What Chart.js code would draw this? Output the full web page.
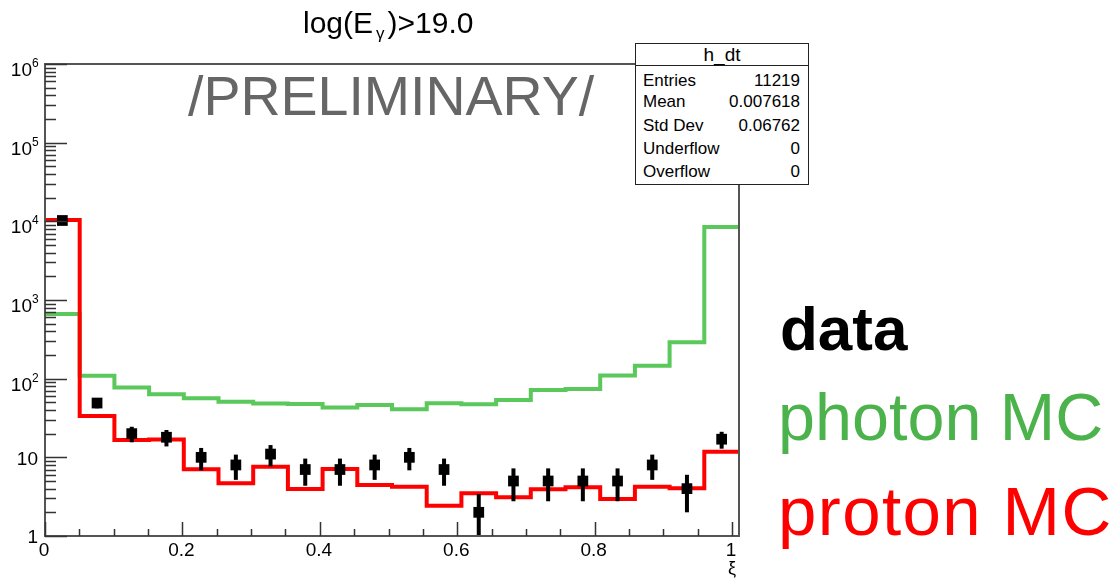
<!DOCTYPE html>
<html>
<head>
<meta charset="utf-8">
<script src="https://cdn.jsdelivr.net/npm/chart.js@4.4.1/dist/chart.umd.min.js"></script>
<style>
body{margin:0;background:#fff;font-family:"Liberation Sans",Arial,Helvetica,sans-serif;}
#wrap{position:relative;width:1119px;height:579px;overflow:hidden;background:#fff;}
#c{position:absolute;left:0;top:0;}
.t{position:absolute;line-height:1;white-space:nowrap;}
#title{left:303px;top:8px;font-size:30px;color:#000;}
#title sub{font-size:17px;position:relative;top:6px;vertical-align:baseline;padding:0 3px 0 3px;}
#prelim{left:188px;top:69px;font-size:55.5px;color:#666;}
#stats{position:absolute;left:635px;top:43px;width:172px;height:140px;border:1.5px solid #222;background:#fff;}
#stats .hd{position:absolute;left:0;top:0;width:172px;height:21px;border-bottom:1.5px solid #222;}
#stats .hd span{position:absolute;left:0;width:172px;text-align:center;top:1px;font-size:19px;line-height:1;}
#stats .row{position:absolute;left:7px;width:157px;font-size:17px;line-height:1;}
#stats .row b{font-weight:normal;float:right;}
#lgData{left:780px;top:298px;font-size:62px;font-weight:bold;color:#000;}
#lgPhoton{left:778px;top:384px;font-size:66.5px;color:#4cb34c;}
#lgProton{left:778px;top:477px;font-size:69px;letter-spacing:1.4px;color:#ff0000;}
</style>
</head>
<body>
<div id="wrap">
  <canvas id="c" width="1119" height="579"></canvas>
  <div class="t" id="title">log(E<sub>γ</sub>)&gt;19.0</div>
  <div class="t" id="prelim">/PRELIMINARY/</div>
  <div id="stats"><div class="hd"><span id="statTitle"></span></div></div>
  <div class="t" id="lgData">data</div>
  <div class="t" id="lgPhoton">photon MC</div>
  <div class="t" id="lgProton">proton MC</div>
</div>
<script>
// histogram binning: 20 bins from 0 to 1.01
var binLow = 0;
var binHigh = 1.01;
var nBins = 20;
var binWidth = (binHigh - binLow) / nBins;

// bin contents
var photonMC = [662, 108.6, 77, 63.5, 56.5, 50.7, 48.2, 47.8, 42.9, 46.4, 40.9, 48.7, 47.4, 53.7, 72, 74, 109.5, 145.5, 291, 8460];
var protonMC = [10400, 33.6, 16.6, 16.9, 7.06, 4.68, 7.6, 3.96, 7.1, 4.46, 4.24, 2.43, 3.49, 3.1, 3.93, 4.16, 2.96, 4.24, 4.05, 11.8];
var dataCounts = [10250, 49, 20, 18, 10, 8, 11, 7, 7, 8, 10, 7, 2, 5, 5, 5, 5, 8, 4, 17];

var xMajorTicks = [0, 0.2, 0.4, 0.6, 0.8, 1];
var xTickLabels = ['0', '0.2', '0.4', '0.6', '0.8', '1'];
var yDecades = [1, 10, 100, 1000, 10000, 100000, 1000000];
var yExponents = ['', '', '2', '3', '4', '5', '6'];

var statTitle = 'h_dt';
var statNames = ['Entries', 'Mean', 'Std Dev', 'Underflow', 'Overflow'];
var statValues = ['11219', '0.007618', '0.06762', '0', '0'];

var greenLine = '#5ac85a';
var redLine = '#ff0000';

// stats box text
document.getElementById('statTitle').textContent = statTitle;
var statsBox = document.getElementById('stats');
var rowBase = [43.7, 65.3, 88.7, 112, 135];
for (var i = 0; i < statNames.length; i++) {
    var r = document.createElement('div');
    r.className = 'row';
    r.style.top = (rowBase[i] - 14.4 - 1.5) + 'px';
    r.innerHTML = statNames[i] + '<b>' + statValues[i] + '</b>';
    statsBox.appendChild(r);
}

function stepPoints(vals) {
    var pts = [];
    for (var i = 0; i < vals.length; i++) {
        pts.push({x: binLow + i * binWidth, y: vals[i]});
    }
    pts.push({x: binHigh, y: vals[vals.length - 1]});
    return pts;
}

function centerPoints(vals) {
    var pts = [];
    for (var i = 0; i < vals.length; i++) {
        pts.push({x: binLow + (i + 0.5) * binWidth, y: vals[i]});
    }
    return pts;
}

// error bars (sqrt N), drawn through the scales
var errorBars = {
    id: 'errorBars',
    afterDatasetsDraw: function (chart) {
        var ctx = chart.ctx, xs = chart.scales.x, ys = chart.scales.y, a = chart.chartArea;
        ctx.save();
        ctx.beginPath();
        ctx.rect(a.left, a.top, a.right - a.left, a.bottom - a.top);
        ctx.clip();
        ctx.strokeStyle = '#000';
        ctx.lineWidth = 4;
        chart.data.datasets[0].data.forEach(function (p) {
            var e = Math.sqrt(p.y);
            var px = xs.getPixelForValue(p.x);
            var top = ys.getPixelForValue(p.y + e);
            var bot = (p.y - e) > 1 ? ys.getPixelForValue(p.y - e) : a.bottom;
            ctx.beginPath();
            ctx.moveTo(px, top);
            ctx.lineTo(px, bot);
            ctx.stroke();
        });
        ctx.restore();
    }
};

// ROOT-like frame, inside ticks and labels
var rootAxes = {
    id: 'rootAxes',
    afterDraw: function (chart) {
        var ctx = chart.ctx, xs = chart.scales.x, ys = chart.scales.y, a = chart.chartArea;
        ctx.save();
        ctx.strokeStyle = '#555';
        ctx.lineWidth = 2;
        ctx.strokeRect(a.left, a.top, a.right - a.left, a.bottom - a.top);

        ctx.strokeStyle = '#333';
        ctx.lineWidth = 1.5;
        ctx.beginPath();
        // x ticks
        for (var k = 0; k <= 20; k++) {
            var xv = k * 0.05;
            var px = Math.round(xs.getPixelForValue(xv)) + 0.5;
            var len = (k % 4 === 0) ? 14 : 7;
            ctx.moveTo(px, a.bottom);
            ctx.lineTo(px, a.bottom - len);
        }
        // y ticks
        yDecades.forEach(function (d, idx) {
            var py = Math.round(ys.getPixelForValue(d)) + 0.5;
            ctx.moveTo(a.left, py);
            ctx.lineTo(a.left + 22, py);
            if (idx < yDecades.length - 1) {
                for (var m = 2; m <= 9; m++) {
                    var pm = Math.round(ys.getPixelForValue(m * d)) + 0.5;
                    ctx.moveTo(a.left, pm);
                    ctx.lineTo(a.left + 11, pm);
                }
            }
        });
        ctx.stroke();

        ctx.fillStyle = '#000';
        ctx.font = '19px "Liberation Sans", Arial, sans-serif';
        ctx.textAlign = 'center';
        ctx.textBaseline = 'alphabetic';
        xMajorTicks.forEach(function (v, i) {
            ctx.fillText(xTickLabels[i], xs.getPixelForValue(v) - 1, 556);
        });
        ctx.font = '18px "Liberation Sans", Arial, sans-serif';
        ctx.fillText('ξ', xs.getPixelForValue(1), 574);

        yDecades.forEach(function (d, idx) {
            var py = ys.getPixelForValue(d);
            ctx.textAlign = 'right';
            ctx.font = '19px "Liberation Sans", Arial, sans-serif';
            if (yExponents[idx] === '') {
                ctx.fillText(idx === 0 ? '1' : '10', 38, py + (idx === 0 ? 7 : 8));
            } else {
                ctx.fillText('10', 32, py + 12);
                ctx.textAlign = 'left';
                ctx.font = '12px "Liberation Sans", Arial, sans-serif';
                ctx.fillText(yExponents[idx], 32, py + 3);
            }
        });
        ctx.restore();
    }
};

var ctx = document.getElementById('c');
var chart = new Chart(ctx, {
    type: 'line',
    data: {
        datasets: [
            {
                label: 'data',
                data: centerPoints(dataCounts),
                showLine: false,
                pointStyle: 'rect',
                pointRadius: 7.6,
                pointBackgroundColor: '#000',
                pointBorderWidth: 0,
                borderWidth: 0
            },
            {
                label: 'proton MC',
                data: stepPoints(protonMC),
                stepped: true,
                borderColor: redLine,
                borderWidth: 4,
                pointRadius: 0,
                fill: false
            },
            {
                label: 'photon MC',
                data: stepPoints(photonMC),
                stepped: true,
                borderColor: greenLine,
                borderWidth: 4,
                pointRadius: 0,
                fill: false
            }
        ]
    },
    options: {
        responsive: false,
        animation: false,
        devicePixelRatio: 1,
        events: [],
        layout: {padding: {left: 45, right: 380, top: 64, bottom: 43}},
        plugins: {legend: {display: false}, tooltip: {enabled: false}, title: {display: false}},
        scales: {
            x: {type: 'linear', min: binLow, max: binHigh, display: false},
            y: {type: 'logarithmic', min: 1, max: 1000000, display: false}
        }
    },
    plugins: [errorBars, rootAxes]
});
</script>
</body>
</html>
